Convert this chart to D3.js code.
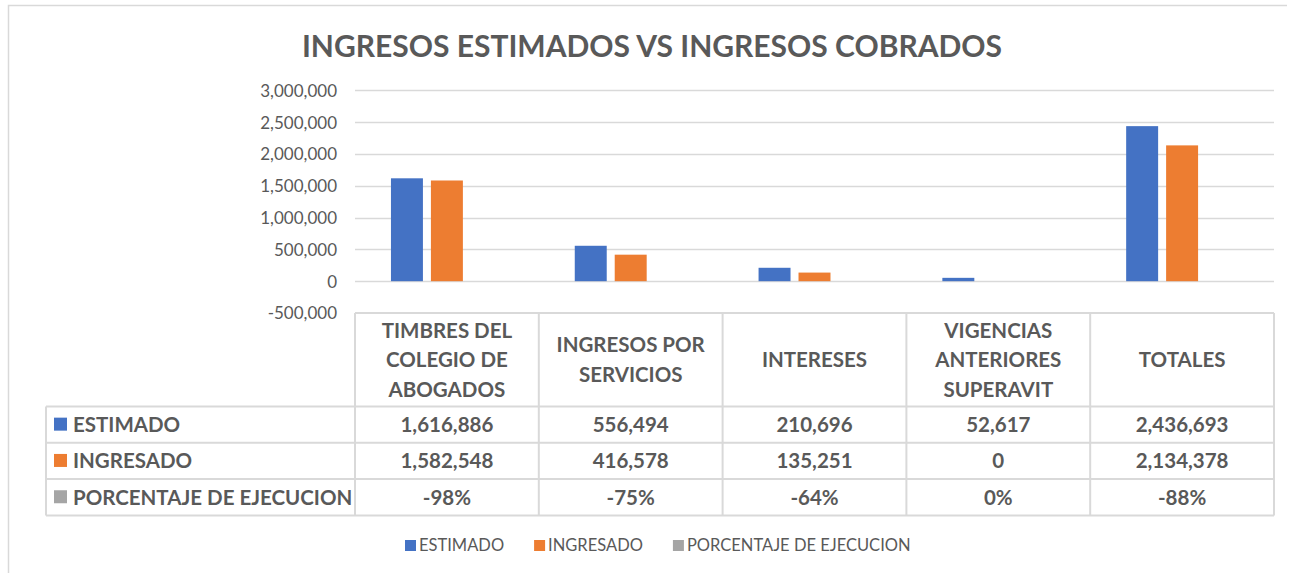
<!DOCTYPE html>
<html><head><meta charset="utf-8">
<script src="https://cdn.jsdelivr.net/npm/d3@7"></script>
<style>
html,body{margin:0;padding:0;background:#fff;}
svg{display:block;font-family:Lato, "Open Sans", sans-serif;}
</style></head>
<body>
<svg id="c" width="1296" height="573"></svg>
<script>
// ---- data ----
const title = "INGRESOS ESTIMADOS VS INGRESOS COBRADOS";
const categories = ["TIMBRES DEL COLEGIO DE ABOGADOS","INGRESOS POR SERVICIOS","INTERESES","VIGENCIAS ANTERIORES SUPERAVIT","TOTALES"];
const categoryLines = [["TIMBRES DEL","COLEGIO DE","ABOGADOS"],["INGRESOS POR","SERVICIOS"],["INTERESES"],["VIGENCIAS","ANTERIORES","SUPERAVIT"],["TOTALES"]];
const seriesNames = ["ESTIMADO","INGRESADO","PORCENTAJE DE EJECUCION"];
const estimado = [1616886, 556494, 210696, 52617, 2436693];
const ingresado = [1582548, 416578, 135251, 0, 2134378];
const porcentaje = [-0.98, -0.75, -0.64, 0, -0.88];
const yTicks = [-500000, 0, 500000, 1000000, 1500000, 2000000, 2500000, 3000000];
const colors = ["#4472C4", "#ED7D31", "#A5A5A5"];

const series = [estimado, ingresado, porcentaje];
const loc = d3.formatLocale({decimal: ".", thousands: ",", grouping: [3], currency: ["$", ""], minus: "-", percent: "%"});
const fmtNum = loc.format(",");
const fmtPct = loc.format(".0%");
const textColor = "#595959";
const gridColor = "#D9D9D9";

const svg = d3.select("#c");
// outer frame (top and left edges visible)
svg.append("path").attr("d", "M8.5,600 V5.5 H1287").attr("fill", "none")
  .attr("stroke", gridColor).attr("stroke-width", 1.5);

// title
svg.append("text").attr("x", 652).attr("y", 57).attr("text-anchor", "middle")
  .attr("font-size", 30).attr("font-weight", 700).attr("fill", textColor).text(title);

const plotL = 355, plotR = 1274;
const y = d3.scaleLinear().domain([d3.min(yTicks), d3.max(yTicks)]).range([313, 90.3]);
const x0 = d3.scaleBand().domain(categories).range([plotL, plotR]).padding(0);
const x1 = d3.scaleBand().domain(seriesNames).range([0, x0.bandwidth()]).paddingInner(0.2).paddingOuter(0.9);

// gridlines (skip the bottom one: table border)
svg.append("g").selectAll("line").data(yTicks.filter(t => t > d3.min(yTicks))).join("line")
  .attr("x1", plotL).attr("x2", plotR)
  .attr("y1", d => Math.round(y(d)) + 0.5).attr("y2", d => Math.round(y(d)) + 0.5)
  .attr("stroke", gridColor).attr("stroke-width", 1.5);

// y axis labels
const yAxis = d3.axisLeft(y).tickValues(yTicks).tickFormat(fmtNum).tickSize(0).tickPadding(0);
const ga = svg.append("g").attr("transform", `translate(337,0)`).call(yAxis);
ga.select(".domain").remove();
ga.selectAll("text").attr("font-size", 17).attr("fill", textColor)
  .attr("font-family", "Lato, sans-serif").attr("dy", "0.35em");

// bars
const gBars = svg.append("g");
series.forEach((vals, si) => {
  gBars.append("g").selectAll("rect").data(vals).join("rect")
    .attr("x", (d, i) => x0(categories[i]) + x1(seriesNames[si]))
    .attr("width", x1.bandwidth())
    .attr("y", d => Math.min(y(d), y(0)))
    .attr("height", d => Math.abs(y(d) - y(0)))
    .attr("fill", colors[si]);
});

// data table
const tTop = y(d3.min(yTicks));
const headBottom = 406.5, rowH = 36.3;
const rowsY = [headBottom, headBottom + rowH, headBottom + 2 * rowH, headBottom + 3 * rowH];
const tLeft = 46;
const gT = svg.append("g");
const bc = gridColor;
// horizontal lines
gT.append("line").attr("x1", plotL).attr("x2", plotR).attr("y1", tTop).attr("y2", tTop).attr("stroke", bc).attr("stroke-width", 2);
rowsY.forEach(ry => gT.append("line").attr("x1", tLeft).attr("x2", plotR).attr("y1", ry).attr("y2", ry).attr("stroke", bc).attr("stroke-width", 2));
// vertical lines
gT.append("line").attr("x1", tLeft).attr("x2", tLeft).attr("y1", headBottom).attr("y2", rowsY[3]).attr("stroke", bc).attr("stroke-width", 2);
categories.forEach(c => gT.append("line").attr("x1", x0(c)).attr("x2", x0(c)).attr("y1", tTop).attr("y2", rowsY[3]).attr("stroke", bc).attr("stroke-width", 2));
gT.append("line").attr("x1", plotR).attr("x2", plotR).attr("y1", tTop).attr("y2", rowsY[3]).attr("stroke", bc).attr("stroke-width", 2);

// headers
categories.forEach((c, i) => {
  const lines = categoryLines[i];
  const cx = x0(c) + x0.bandwidth() / 2;
  const midY = (tTop + headBottom) / 2;
  const lh = 29.5;
  lines.forEach((ln, j) => {
    gT.append("text").attr("x", cx).attr("y", midY + (j - (lines.length - 1) / 2) * lh)
      .attr("dy", "0.36em").attr("text-anchor", "middle")
      .attr("font-size", 20.5).attr("font-weight", 700).attr("fill", textColor).text(ln);
  });
});

// rows
seriesNames.forEach((s, si) => {
  const cy = (rowsY[si] + rowsY[si + 1]) / 2;
  gT.append("rect").attr("x", 54).attr("y", cy - 7).attr("width", 13).attr("height", 13).attr("fill", colors[si]);
  gT.append("text").attr("x", 73).attr("y", cy).attr("dy", "0.36em")
    .attr("font-size", 20.5).attr("font-weight", 700).attr("fill", textColor).text(s);
  series[si].forEach((v, i) => {
    gT.append("text").attr("x", x0(categories[i]) + x0.bandwidth() / 2).attr("y", cy).attr("dy", "0.36em")
      .attr("text-anchor", "middle").attr("font-size", 20.5).attr("font-weight", 700).attr("fill", textColor)
      .text(si === 2 ? fmtPct(v) : fmtNum(v));
  });
});

// legend
const gL = svg.append("g");
const legendY = 545;
let lx = 405;
seriesNames.forEach((s, si) => {
  gL.append("rect").attr("x", lx).attr("y", legendY - 5).attr("width", 11).attr("height", 11).attr("fill", colors[si]);
  const t = gL.append("text").attr("x", lx + 14).attr("y", legendY).attr("dy", "0.36em")
    .attr("font-size", 16.5).attr("fill", textColor).text(s);
  lx = lx + 14 + t.node().getComputedTextLength() + 30;
});
</script>
</body></html>
